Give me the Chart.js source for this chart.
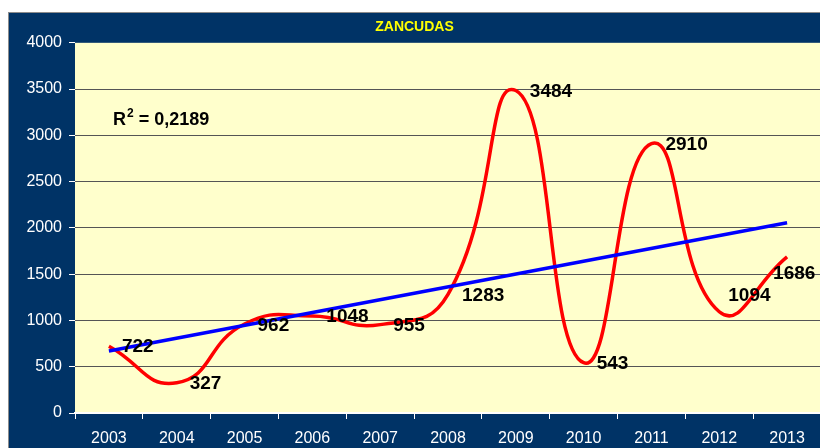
<!DOCTYPE html>
<html>
<head>
<meta charset="utf-8">
<script src="https://cdn.jsdelivr.net/npm/chart.js@4"></script>
<style>
  html, body { margin: 0; padding: 0; background: #fff; overflow: hidden; width: 820px; height: 448px; }
  #zancudas { display: block; }
</style>
</head>
<body>
<canvas id="zancudas" width="830" height="448"></canvas>
<script>
const years = ['2003', '2004', '2005', '2006', '2007', '2008', '2009', '2010', '2011', '2012', '2013'];
const cases = [722, 327, 962, 1048, 955, 1283, 3484, 543, 2910, 1094, 1686];
// linear trend line, read at its two ends
const trend = [670, null, null, null, null, null, null, null, null, null, 2055];
const yTicks = [0, 500, 1000, 1500, 2000, 2500, 3000, 3500, 4000];
const rSquared = '0,2189';

// where each value label sits next to its point
const labelShift = [[13, 1], [13, 1], [13, 2], [14, 1], [13, 1], [14, 2], [14, 1], [13, 1], [14, 1], [9, -16], [-14, 17]];

const navy = 'rgb(0, 51, 102)';
const cream = 'rgb(255, 255, 204)';
const font = "'Liberation Sans', Arial, sans-serif";

const frame = {
  id: 'frame',
  beforeDraw(chart) {
    const ctx = chart.ctx;
    const a = chart.chartArea;
    ctx.save();
    ctx.fillStyle = '#fff';
    ctx.fillRect(0, 0, chart.width, chart.height);
    ctx.fillStyle = navy;
    ctx.fillRect(8, 12, chart.width - 8, chart.height - 12);
    ctx.strokeStyle = '#8c8c8c';
    ctx.lineWidth = 1;
    ctx.strokeRect(8.5, 12.5, chart.width, chart.height);
    ctx.fillStyle = cream;
    ctx.fillRect(a.left, a.top, a.right - a.left, a.bottom - a.top);
    ctx.restore();
  }
};

const valueLabels = {
  id: 'valueLabels',
  afterDatasetsDraw(chart) {
    const ctx = chart.ctx;
    const meta = chart.getDatasetMeta(1);
    ctx.save();
    ctx.font = 'bold 19px ' + font;
    ctx.fillStyle = '#000';
    ctx.textAlign = 'left';
    ctx.textBaseline = 'middle';
    meta.data.forEach((pt, i) => {
      const s = labelShift[i];
      ctx.fillText(String(cases[i]), pt.x + s[0], pt.y + s[1]);
    });
    // R squared note
    const a = chart.chartArea;
    const x = a.left + 38;
    const y = a.top + 82;
    ctx.textBaseline = 'alphabetic';
    ctx.font = 'bold 18px ' + font;
    ctx.fillText('R', x, y);
    let w = ctx.measureText('R').width;
    ctx.font = 'bold 12px ' + font;
    ctx.fillText('2', x + w + 1, y - 8);
    w += ctx.measureText('2').width + 1;
    ctx.font = 'bold 18px ' + font;
    ctx.fillText(' = ' + rSquared, x + w, y);
    ctx.restore();
  }
};

new Chart(document.getElementById('zancudas'), {
  type: 'line',
  data: {
    labels: years,
    datasets: [{
      label: 'Tendencia',
      data: trend,
      borderColor: '#0000ff',
      borderWidth: 3.5,
      pointRadius: 0,
      spanGaps: true,
      tension: 0,
      order: 0
    }, {
      label: 'Zancudas',
      data: cases,
      borderColor: '#ff0000',
      borderWidth: 3.5,
      pointRadius: 0,
      tension: 0.5,
      order: 1
    }]
  },
  options: {
    responsive: false,
    animation: false,
    layout: { padding: { top: 12, left: 8, right: 9, bottom: 0 } },
    plugins: {
      legend: { display: false },
      tooltip: { enabled: false },
      title: {
        display: true,
        text: 'ZANCUDAS',
        color: '#ffff00',
        font: { family: font, size: 14, weight: 'bold' },
        padding: { top: 7, bottom: 7 }
      }
    },
    scales: {
      x: {
        offset: true,
        afterFit: (s) => { s.height = 35; },
        grid: { display: true, drawOnChartArea: false, offset: true, tickColor: '#fff', tickLength: 6 },
        border: { display: true, color: '#fff', width: 2 },
        ticks: { color: '#fff', font: { family: font, size: 16 }, padding: 10, maxRotation: 0 }
      },
      y: {
        min: 0,
        max: 4000,
        afterFit: (s) => { s.width = 67; },
        afterBuildTicks: (s) => { s.ticks = yTicks.map(v => ({ value: v })); },
        grid: {
          color: (c) => (c.tick && (c.tick.value === 4000 || c.tick.value === 0)) ? 'rgba(0,0,0,0)' : '#555',
          tickColor: '#fff',
          tickLength: 6,
          lineWidth: 1
        },
        border: { display: false },
        ticks: { color: '#fff', font: { family: font, size: 16 }, padding: 7, callback: (v) => String(v) }
      }
    }
  },
  plugins: [frame, valueLabels]
});
</script>
</body>
</html>
